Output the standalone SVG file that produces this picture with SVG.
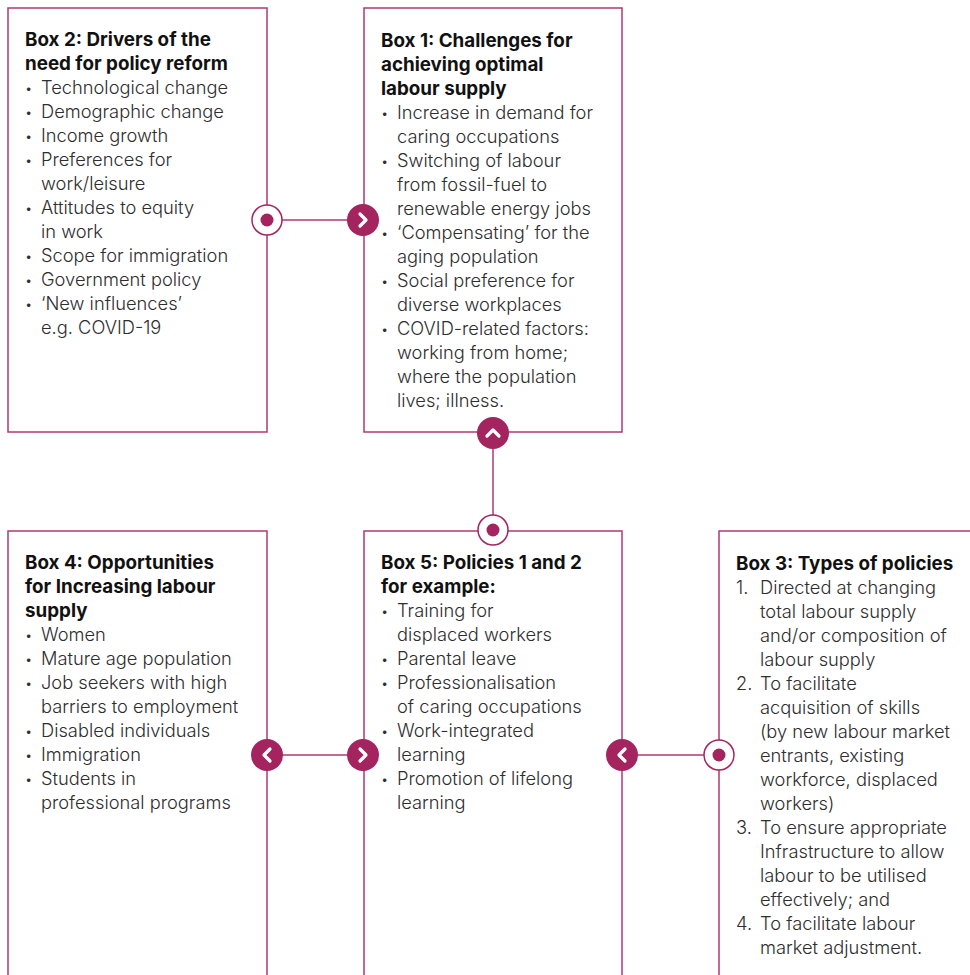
<svg xmlns="http://www.w3.org/2000/svg" width="970" height="975" viewBox="0 0 970 975">
  <style>
    .box { fill: #ffffff; stroke: #b03a72; stroke-width: 1.5; }
    .line { stroke: #b03a72; stroke-width: 1.5; fill: none; }
    .title { font-family: Inter, "Liberation Sans", sans-serif; font-size: 18.8px; font-weight: 700; fill: #111111; }
    .item { font-family: Inter, "Liberation Sans", sans-serif; font-size: 18.3px; font-weight: 300; fill: #2e2e2e; }
    .bul { font-size: 13px; }
    .dotring { fill: #ffffff; stroke: #a3245f; stroke-width: 1.5; }
    .dot { fill: #a3245f; }
    .badge { fill: #a3245f; }
    .chev { fill: none; stroke: #ffffff; stroke-width: 3.2; stroke-linecap: round; stroke-linejoin: round; }
  </style>

  <!-- Box 2 -->
  <g id="box2">
    <rect class="box" x="8" y="8" width="259" height="424"/>
    <text class="title" x="25" y="46">Box 2: Drivers of the</text>
    <text class="title" x="25" y="70">need for policy reform</text>
    <g class="item">
      <text class="bul" x="25" y="93">•</text><text x="41" y="94">Technological change</text>
      <text class="bul" x="25" y="117">•</text><text x="41" y="118">Demographic change</text>
      <text class="bul" x="25" y="141">•</text><text x="41" y="142">Income growth</text>
      <text class="bul" x="25" y="165">•</text><text x="41" y="166">Preferences for</text>
      <text x="41" y="190">work/leisure</text>
      <text class="bul" x="25" y="213">•</text><text x="41" y="214">Attitudes to equity</text>
      <text x="41" y="238">in work</text>
      <text class="bul" x="25" y="261">•</text><text x="41" y="262">Scope for immigration</text>
      <text class="bul" x="25" y="285">•</text><text x="41" y="286">Government policy</text>
      <text class="bul" x="25" y="309">•</text><text x="41" y="310">‘New influences’</text>
      <text x="41" y="334">e.g. COVID-19</text>
    </g>
  </g>

  <!-- Box 1 -->
  <g id="box1">
    <rect class="box" x="364" y="8" width="258" height="424"/>
    <text class="title" x="381" y="47">Box 1: Challenges for</text>
    <text class="title" x="381" y="71">achieving optimal</text>
    <text class="title" x="381" y="95">labour supply</text>
    <g class="item">
      <text class="bul" x="381" y="118">•</text><text x="397" y="119">Increase in demand for</text>
      <text x="397" y="143">caring occupations</text>
      <text class="bul" x="381" y="166">•</text><text x="397" y="167">Switching of labour</text>
      <text x="397" y="191">from fossil-fuel to</text>
      <text x="397" y="215">renewable energy jobs</text>
      <text class="bul" x="381" y="238">•</text><text x="397" y="239">‘Compensating’ for the</text>
      <text x="397" y="263">aging population</text>
      <text class="bul" x="381" y="286">•</text><text x="397" y="287">Social preference for</text>
      <text x="397" y="311">diverse workplaces</text>
      <text class="bul" x="381" y="334">•</text><text x="397" y="335">COVID-related factors:</text>
      <text x="397" y="359">working from home;</text>
      <text x="397" y="383">where the population</text>
      <text x="397" y="407">lives; illness.</text>
    </g>
  </g>

  <!-- Box 4 -->
  <g id="box4">
    <rect class="box" x="8" y="531" width="259" height="460"/>
    <text class="title" x="25" y="569">Box 4: Opportunities</text>
    <text class="title" x="25" y="593">for Increasing labour</text>
    <text class="title" x="25" y="617">supply</text>
    <g class="item">
      <text class="bul" x="25" y="640">•</text><text x="41" y="641">Women</text>
      <text class="bul" x="25" y="664">•</text><text x="41" y="665">Mature age population</text>
      <text class="bul" x="25" y="688">•</text><text x="41" y="689">Job seekers with high</text>
      <text x="41" y="713">barriers to employment</text>
      <text class="bul" x="25" y="736">•</text><text x="41" y="737">Disabled individuals</text>
      <text class="bul" x="25" y="760">•</text><text x="41" y="761">Immigration</text>
      <text class="bul" x="25" y="784">•</text><text x="41" y="785">Students in</text>
      <text x="41" y="809">professional programs</text>
    </g>
  </g>

  <!-- Box 5 -->
  <g id="box5">
    <rect class="box" x="364" y="531" width="258" height="460"/>
    <text class="title" x="381" y="569">Box 5: Policies 1 and 2</text>
    <text class="title" x="381" y="593">for example:</text>
    <g class="item">
      <text class="bul" x="381" y="616">•</text><text x="397" y="617">Training for</text>
      <text x="397" y="641">displaced workers</text>
      <text class="bul" x="381" y="664">•</text><text x="397" y="665">Parental leave</text>
      <text class="bul" x="381" y="688">•</text><text x="397" y="689">Professionalisation</text>
      <text x="397" y="713">of caring occupations</text>
      <text class="bul" x="381" y="736">•</text><text x="397" y="737">Work-integrated</text>
      <text x="397" y="761">learning</text>
      <text class="bul" x="381" y="784">•</text><text x="397" y="785">Promotion of lifelong</text>
      <text x="397" y="809">learning</text>
    </g>
  </g>

  <!-- Box 3 -->
  <g id="box3">
    <rect class="box" x="719" y="531" width="270" height="460"/>
    <text class="title" x="736" y="570">Box 3: Types of policies</text>
    <g class="item">
      <text x="736" y="594">1.</text><text x="760" y="594">Directed at changing</text>
      <text x="760" y="618">total labour supply</text>
      <text x="760" y="642">and/or composition of</text>
      <text x="760" y="666">labour supply</text>
      <text x="736" y="690">2.</text><text x="760" y="690">To facilitate</text>
      <text x="760" y="714">acquisition of skills</text>
      <text x="760" y="738">(by new labour market</text>
      <text x="760" y="762">entrants, existing</text>
      <text x="760" y="786">workforce, displaced</text>
      <text x="760" y="810">workers)</text>
      <text x="736" y="834">3.</text><text x="760" y="834">To ensure appropriate</text>
      <text x="760" y="858">Infrastructure to allow</text>
      <text x="760" y="882">labour to be utilised</text>
      <text x="760" y="906">effectively; and</text>
      <text x="736" y="930">4.</text><text x="760" y="930">To facilitate labour</text>
      <text x="760" y="954">market adjustment.</text>
    </g>
  </g>

  <!-- Connectors -->
  <g id="connectors">
    <line class="line" x1="267" y1="220" x2="364" y2="220"/>
    <line class="line" x1="493" y1="433" x2="493" y2="530"/>
    <line class="line" x1="267" y1="755" x2="364" y2="755"/>
    <line class="line" x1="622" y1="755" x2="719" y2="755"/>

    <!-- Box 2 → Box 1 -->
    <circle class="dotring" cx="267" cy="220" r="15"/>
    <circle class="dot" cx="267" cy="220" r="6.5"/>
    <circle class="badge" cx="363" cy="220" r="16"/>
    <polyline class="chev" points="360,214 366,220 360,226"/>

    <!-- Box 5 → Box 1 -->
    <circle class="badge" cx="493" cy="433" r="16"/>
    <polyline class="chev" points="487,436 493,430 499,436"/>
    <circle class="dotring" cx="493" cy="530" r="15"/>
    <circle class="dot" cx="493" cy="530" r="6.5"/>

    <!-- Box 5 ↔ Box 4 -->
    <circle class="badge" cx="267" cy="755" r="16"/>
    <polyline class="chev" points="270,749 264,755 270,761"/>
    <circle class="badge" cx="363" cy="755" r="16"/>
    <polyline class="chev" points="360,749 366,755 360,761"/>

    <!-- Box 3 → Box 5 -->
    <circle class="badge" cx="622" cy="755" r="16"/>
    <polyline class="chev" points="625,749 619,755 625,761"/>
    <circle class="dotring" cx="719" cy="755" r="15"/>
    <circle class="dot" cx="719" cy="755" r="6.5"/>
  </g>
</svg>
